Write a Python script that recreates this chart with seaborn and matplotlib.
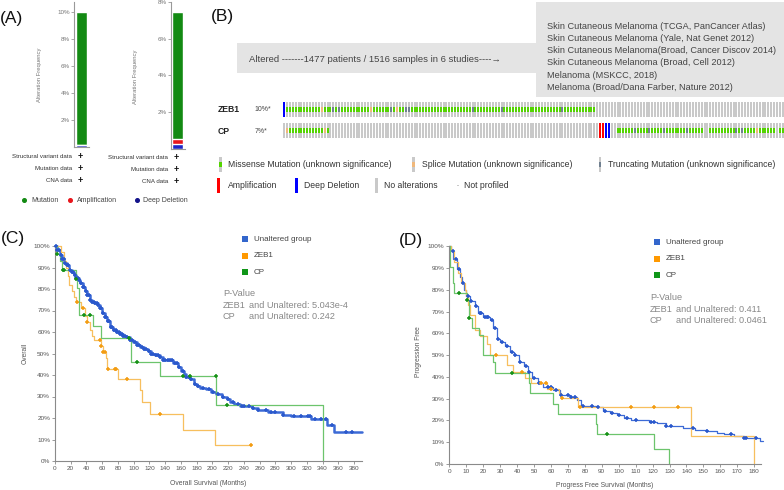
import numpy as np
import matplotlib
matplotlib.use("Agg")
import matplotlib.pyplot as plt
from matplotlib.patches import Rectangle
import seaborn as sns

# ---------------- panel A : alteration frequency ----------------
genes = ["ZEB1", "CP"]
mutation_pct = [9.85, 6.94]
amplification_pct = [0.0, 0.25]
deep_deletion_pct = [0.15, 0.27]
freq_max = [10.74, 8.0]
freq_ticks = [[2, 4, 6, 8, 10], [2, 4, 6, 8]]
profiled_rows = ["Structural variant data", "Mutation data", "CNA data"]
a_legend = ["Mutation", "Amplification", "Deep Deletion"]

# ---------------- panel B : oncoprint ----------------
studies = [
    "Skin Cutaneous Melanoma (TCGA, PanCancer Atlas)",
    "Skin Cutaneous Melanoma (Yale, Nat Genet 2012)",
    "Skin Cutaneous Melanoma(Broad, Cancer Discov 2014)",
    "Skin Cutaneous Melanoma (Broad, Cell 2012)",
    "Melanoma (MSKCC, 2018)",
    "Melanoma (Broad/Dana Farber, Nature 2012)",
]
altered_note = "Altered -------1477 patients / 1516 samples in 6 studies----\u2192"
onco_pct = ["10%*", "7%*"]
# sample columns as runs: M missense, S splice, T truncating, A amp, D deep del, N none
zeb1_runs = [("D", 1), ("M", 12), ("S", 1), ("M", 3), ("T", 1), ("M", 1), ("T", 1),
             ("M", 10), ("S", 1), ("M", 6), ("T", 1), ("M", 1), ("S", 1), ("M", 2),
             ("T", 2), ("M", 21), ("T", 1), ("M", 9), ("T", 1), ("M", 20), ("T", 1),
             ("M", 11), ("N", 65)]
cp_runs = [("N", 1), ("S", 1), ("M", 12), ("S", 1), ("M", 1), ("N", 93), ("A", 2),
           ("D", 2), ("N", 2), ("M", 6), ("T", 1), ("M", 4), ("T", 1), ("M", 4),
           ("T", 1), ("M", 7), ("T", 1), ("M", 5), ("N", 2), ("M", 9), ("T", 1),
           ("M", 1), ("T", 1), ("M", 4), ("S", 1), ("M", 6), ("N", 1), ("M", 2)]
onco_legend_1 = ["Missense Mutation (unknown significance)",
                 "Splice Mutation (unknown significance)",
                 "Truncating Mutation (unknown significance)"]
onco_legend_2 = ["Amplification", "Deep Deletion", "No alterations", "Not profiled"]

# ---------------- panel C : overall survival ----------------
km_groups = ["Unaltered group", "ZEB1", "CP"]
os_unalt_t = [0, 3, 6, 9, 12, 15, 18, 21, 24, 27, 30, 32, 35, 38, 41, 44, 47, 50, 54, 57,
              60, 63, 66, 70, 74, 78, 82, 86, 90, 95, 99, 104, 108, 113, 118, 122, 127,
              133, 137, 142, 150, 156, 160, 164, 167, 172, 176, 180, 184, 192, 198, 205,
              212, 218, 222, 228, 235, 250, 258, 270, 290, 300, 325, 345, 355, 390]
os_unalt_s = [100, 98, 96, 94, 92, 91, 89, 88, 86.5, 85, 84, 83, 81, 79, 77, 75, 74, 73.5,
              72.5, 71, 69, 67, 65, 62.5, 61, 60, 59, 58.2, 57.5, 56.2, 55.3, 54, 53, 52,
              51, 50, 49.3, 48.5, 47, 46.8, 45.5, 43.5, 42, 40.5, 39, 38, 36, 35, 34, 33.5,
              32, 31, 30, 28.7, 27.6, 26.5, 25.6, 24.7, 23.7, 22.6, 21.5, 21, 19.6, 16.7,
              13.3, 13.3]
os_unalt_cens = [1, 3, 5, 7, 9, 11, 13, 15, 17, 19, 21, 23, 25, 27, 29, 31, 33, 35, 37, 39,
                 41, 43, 45, 47, 49, 51, 53, 55, 57, 59, 61, 63, 65, 67, 69, 71, 73, 75, 77,
                 79, 81, 83, 85, 87, 89, 92, 95, 98, 101, 104, 107, 110, 113, 116, 119, 122,
                 125, 128, 131, 134, 137, 140, 143, 146, 149, 152, 155, 158, 163, 167, 170,
                 173, 178, 182, 188, 196, 201, 207, 214, 220, 226, 233, 237, 240, 247, 252,
                 258, 268, 274, 280, 290, 304, 312, 321, 324, 330, 338, 344, 352, 370, 377]
os_zeb1_t = [0, 8, 11, 14, 16, 18, 21, 24, 27, 33, 38, 41, 44, 47, 50, 58, 61, 65, 66, 80,
             108, 111, 121, 162, 203, 249]
os_zeb1_s = [100, 97, 93, 90, 86, 82, 79, 76.5, 74, 71, 67.5, 64.5, 61, 58, 56.3, 53.5,
             50.5, 48, 43, 38.3, 33, 27.3, 22, 14.6, 7.3, 7.3]
os_zeb1_cens = [28, 36, 41, 57, 59, 61.5, 63, 67, 76, 78, 91, 134, 249]
os_cp_t = [0, 2, 6, 8.5, 27, 28, 30, 31, 48.5, 59, 97, 133, 205, 340]
os_cp_s = [100, 96.5, 92.8, 89, 84.7, 80.5, 73.5, 68, 62.8, 57.4, 46, 39.4, 26.2, 0]
os_cp_cens = [2, 10, 12, 27, 37, 44, 94, 104, 162, 171, 204, 219]
os_pvals = [("ZEB1", "and Unaltered: 5.043e-4"), ("CP", "and Unaltered: 0.242")]

# ---------------- panel D : progression free survival ----------------
pfs_unalt_t = [0, 1, 2.4, 4.4, 6.3, 7.5, 8.5, 10, 12, 15, 17, 20, 24, 26, 28, 30, 33, 36,
               38, 41, 44, 46.7, 48.6, 52.5, 55.5, 61.4, 65.4, 71.3, 75.2, 78, 87, 91, 95,
               99, 103, 107, 118, 122.5, 128, 138, 145, 152, 158, 162, 168, 174, 183.5, 185]
pfs_unalt_s = [100, 98, 94, 89.5, 86, 83, 80, 77, 75, 72.5, 69.5, 67.7, 66, 62.3, 57.5,
               56, 54, 51.5, 50, 47, 45, 42.4, 39.4, 37, 35.2, 34, 31.7, 30.6, 29.4, 26.7,
               26, 24.4, 23.5, 22.5, 21.3, 20.2, 19.4, 18.7, 17.5, 16.4, 15.8, 15.2, 14.3,
               13.6, 12.7, 11.8, 10.7, 10.7]
pfs_unalt_cens = [2, 4, 6, 8, 11, 13, 16, 18, 19, 21, 22, 23, 25, 27, 29, 31, 34, 37, 39,
                  42, 45, 47, 50, 53, 58, 60, 63, 66, 70, 72, 74, 79, 84, 88, 92, 96, 100,
                  105, 110, 119, 121, 128, 131, 144, 152, 166, 174, 175, 181]
pfs_zeb1_t = [0, 1, 3, 5, 7, 9, 10, 11, 12, 15, 18, 22, 24, 34, 37.8, 44.7, 48, 57.5, 65,
              66, 76.2, 142.7, 180]
pfs_zeb1_s = [100, 98, 93, 88, 83, 80, 77, 73, 68.5, 61.6, 59, 55, 50, 45.5, 42.4, 39.4,
              37.4, 34.3, 32.8, 30.2, 26, 12.9, 0]
pfs_zeb1_cens = [27.5, 43, 54, 57, 60, 66.8, 77, 107, 121, 135]
pfs_cp_t = [0, 0.3, 0.6, 2.2, 3, 10.6, 11.4, 11.8, 13.2, 17.7, 19.7, 25.6, 27, 47.3, 47.6,
            61.4, 64, 86.7, 87.3, 121, 129.4]
pfs_cp_s = [100, 96.7, 90.7, 83, 78.7, 75.4, 70.8, 67, 62.4, 59.3, 50.1, 47, 41.7, 37,
            32.5, 27.6, 23, 18.4, 13.6, 6.9, 0]
pfs_cp_cens = [6, 10.6, 11.8, 36.8, 93]
pfs_pvals = [("ZEB1", "and Unaltered: 0.411"), ("CP", "and Unaltered: 0.0461")]

# ---------------- style ----------------
sns.set_theme(style="white")
plt.rcParams["font.family"] = ["Liberation Sans", "DejaVu Sans"]

W, H = 784, 490
fig = plt.figure(figsize=(W / 100, H / 100), dpi=100)


def add_ax(x0, y0, x1, y1):
    # pixel box (top-left origin) -> figure axes
    return fig.add_axes([x0 / W, 1 - y1 / H, (x1 - x0) / W, (y1 - y0) / H])


ov = fig.add_axes([0, 0, 1, 1], zorder=10)
ov.set_xlim(0, W)
ov.set_ylim(H, 0)
ov.axis("off")

GRAY_TXT = "#555555"
A_GREEN, A_RED, A_BLUE = "#138a13", "#e8151b", "#1b25c8"

# ---- panel A ----
a_boxes = [(74, 1.7, 89, 146.7), (170.7, 1.7, 185, 149)]
for i, g in enumerate(genes):
    ax = add_ax(*a_boxes[i])
    total = mutation_pct[i] + amplification_pct[i] + deep_deletion_pct[i]
    cna = amplification_pct[i] + deep_deletion_pct[i]
    sns.barplot(x=[g], y=[total], color=A_GREEN, saturation=1, width=0.75, ax=ax)
    if cna > 0:
        sns.barplot(x=[g], y=[cna], color=A_RED, saturation=1, width=0.75, ax=ax)
    sns.barplot(x=[g], y=[deep_deletion_pct[i]], color=A_BLUE, saturation=1, width=0.75, ax=ax)
    ax.set_xlim(-0.5, 0.5)
    ax.set_ylim(0, freq_max[i])
    ax.set_yticks(freq_ticks[i])
    ax.set_yticklabels([f"{v}%" for v in freq_ticks[i]])
    ax.set_xticks([])
    ax.set_xlabel("")
    ax.set_ylabel("")
    ax.patch.set_alpha(0)
    for sp in ["top", "right"]:
        ax.spines[sp].set_visible(False)
    for sp in ["left", "bottom"]:
        ax.spines[sp].set_color("#999999")
        ax.spines[sp].set_linewidth(0.8)
    ax.tick_params(axis="y", length=2, width=0.6, color="#999999", labelsize=4.5,
                   labelcolor="#777777", pad=1, left=True)

ov.text(40, 75, "Alteration Frequency", rotation=90, ha="center", va="center", fontsize=4.2, color="#777777")
ov.text(136, 77, "Alteration Frequency", rotation=90, ha="center", va="center", fontsize=4.2, color="#777777")
for j, row in enumerate(profiled_rows):
    for tx, px, y0 in [(72, 80, 156), (168, 176, 157.3)]:
        y = y0 + j * 12.2
        ov.text(tx, y, row, ha="right", va="center", fontsize=4.4, color="#333333")
        ov.text(px, y, "+", ha="center", va="center", fontsize=6.5, fontweight="bold", color="#111111")
for (dx, tx), lab, c in zip([(24, 31.5), (70, 77.3), (136.7, 143.5)], a_legend, [A_GREEN, A_RED, "#12128a"]):
    ov.plot([dx], [200], "o", ms=2.6, color=c)
    ov.text(tx, 200, lab, ha="left", va="center", fontsize=5, color="#444444")

# ---- panel B ----
ov.add_patch(Rectangle((237, 43), 299, 30.5, color="#e4e4e4", lw=0))
ov.text(249, 59, altered_note, ha="left", va="center", fontsize=6.8, color="#444444")
ov.add_patch(Rectangle((536, 2), 248, 95, color="#e4e4e4", lw=0))
for k, s in enumerate(studies):
    ov.text(547, 26.3 + k * 12.2, s, ha="left", va="center", fontsize=6.6, color="#444444")

ONCO = {"M": "#53d400", "S": "#f0b87b", "T": "#708090", "A": "#ff0000", "D": "#0000ff"}
ONCO_GRAY = "#c9c9c9"
pitch = 2.9
onco = add_ax(283, 95, 784, 145)
onco.set_xlim(-0.35, -0.35 + 501 / pitch)
onco.set_ylim(145, 95)
onco.axis("off")
row_tops = [102, 123.5]
for r, runs in enumerate([zeb1_runs, cp_runs]):
    codes = "".join(c * n for c, n in runs)
    idx = np.arange(len(codes))
    top = row_tops[r]
    full = [c if c in "AD" else None for c in codes]
    onco.bar(idx, 15, bottom=top, width=0.7, color=[ONCO[c] if c in "AD" else ONCO_GRAY for c in codes], lw=0)
    mut = [i for i, c in enumerate(codes) if c in "MST"]
    onco.bar(mut, 5, bottom=top + 5, width=0.7, color=[ONCO[codes[i]] for i in mut], lw=0)
    ov.text(218, top + 7.5, genes[r], ha="left", va="center", fontsize=6.2, fontweight="bold", color="#222222")
    ov.text(254.5, top + 7.5, onco_pct[r], ha="left", va="center", fontsize=5, color="#444444")

# oncoprint legend
for (gx, tx), lab, c in zip([(220.7, 228), (413.3, 421.7), (600, 608)], onco_legend_1, ["M", "S", "T"]):
    ov.add_patch(Rectangle((gx - 1.3, 156.5), 2.6, 15, color=ONCO_GRAY, lw=0))
    ov.add_patch(Rectangle((gx - 1.3, 161.5), 2.6, 5, color=ONCO[c], lw=0))
    ov.text(tx, 164, lab, ha="left", va="center", fontsize=6.2, color="#333333")
for (gx, tx), lab, c in zip([(218.3, 228), (296.7, 304), (376.7, 384.3), (458, 464.3)], onco_legend_2,
                            [ONCO["A"], ONCO["D"], ONCO_GRAY, None]):
    if c is None:
        ov.add_patch(Rectangle((gx - 1.3, 184.5), 2.6, 1, color=ONCO_GRAY, lw=0))
    else:
        ov.add_patch(Rectangle((gx - 1.3, 177.5), 2.6, 15, color=c, lw=0))
    ov.text(tx, 185, lab, ha="left", va="center", fontsize=6.2, color="#333333")

# ---- panels C and D : Kaplan-Meier ----
KM_BLUE_L, KM_BLUE_M = "#3c6ad6", "#2a58cc"
KM_ORANGE_L, KM_ORANGE_M = "#f7bf5e", "#f39c12"
KM_GREEN_L, KM_GREEN_M = "#6cc46c", "#169116"
LEG_COLS = ["#3366cc", "#ff9900", "#109618"]


def surv_at(t, s, cens):
    return [s[np.searchsorted(t, c, side="right") - 1] for c in cens]


def km_panel(ax, curves, xmax, xticks):
    for t, s, cens, lc, mc, lw in curves:
        sns.lineplot(x=t, y=s, drawstyle="steps-post", color=lc, lw=lw, ax=ax,
                     estimator=None, sort=False, clip_on=False)
        sns.scatterplot(x=cens, y=surv_at(t, s, cens), marker="+", s=10, color=mc,
                        linewidth=1.1, ax=ax, clip_on=False, zorder=4)
    ax.set_xlim(0, xmax)
    ax.set_ylim(0, 100)
    ax.set_xticks(xticks)
    ax.set_yticks(range(0, 101, 10))
    ax.set_yticklabels([f"{v}%" for v in range(0, 101, 10)])
    ax.patch.set_alpha(0)
    for sp in ["top", "right"]:
        ax.spines[sp].set_visible(False)
    for sp in ["left", "bottom"]:
        ax.spines[sp].set_color("#8a8a8a")
        ax.spines[sp].set_linewidth(0.8)
    ax.tick_params(length=2.5, width=0.6, color="#8a8a8a", labelsize=4.6,
                   labelcolor="#555555", pad=1, left=True, bottom=True)


axc = add_ax(55, 246, 362, 461)
km_panel(axc, [
    (os_unalt_t, os_unalt_s, os_unalt_cens, KM_BLUE_L, KM_BLUE_M, 1.8),
    (os_zeb1_t, os_zeb1_s, os_zeb1_cens, KM_ORANGE_L, KM_ORANGE_M, 0.9),
    (os_cp_t, os_cp_s, os_cp_cens, KM_GREEN_L, KM_GREEN_M, 0.9),
], 390, range(0, 381, 20))

axd = add_ax(449.3, 246.4, 761, 464)
km_panel(axd, [
    (pfs_unalt_t, pfs_unalt_s, pfs_unalt_cens, KM_BLUE_L, KM_BLUE_M, 0.9),
    (pfs_zeb1_t, pfs_zeb1_s, pfs_zeb1_cens, KM_ORANGE_L, KM_ORANGE_M, 0.9),
    (pfs_cp_t, pfs_cp_s, pfs_cp_cens, KM_GREEN_L, KM_GREEN_M, 0.9),
], 184, range(0, 181, 10))

ov.text(25, 353, "Overall", rotation=90, ha="center", va="center", fontsize=4.8, color="#555555")
ov.text(208, 483, "Overall Survival (Months)", ha="center", va="center", fontsize=4.9, color="#555555")
ov.text(419, 352, "Progression Free", rotation=90, ha="center", va="center", fontsize=4.8, color="#555555")
ov.text(605, 485.7, "Progress Free Survival (Months)", ha="center", va="center", fontsize=4.9, color="#555555")

for (sx, ly0, px, py0, andx, pvals) in [(245, 239, 223, 293, 249.5, os_pvals),
                                        (657, 242, 650, 297, 676, pfs_pvals)]:
    for k, (lab, c) in enumerate(zip(km_groups, LEG_COLS)):
        y = ly0 + k * 16.5
        ov.add_patch(Rectangle((sx - 3, y - 3), 6, 6, color=c, lw=0))
        ov.text(sx + 9, y, lab, ha="left", va="center", fontsize=5.8, color="#444444")
    ov.text(px, py0, "P-Value", ha="left", va="center", fontsize=6.6, color="#888888")
    for k, (g, rest) in enumerate(pvals):
        y = py0 + 12 + k * 11.3
        ov.text(px, y, g, ha="left", va="center", fontsize=6.6, color="#888888")
        ov.text(andx, y, rest, ha="left", va="center", fontsize=6.6, color="#888888")

# panel letters
for lab, x, y in [("(A)", 0, 19), ("(B)", 211, 17), ("(C)", 1, 238), ("(D)", 399, 240)]:
    ov.text(x, y, lab, ha="left", va="center", fontsize=12.5, color="#111111")

fig.savefig("out.png", dpi=100)
